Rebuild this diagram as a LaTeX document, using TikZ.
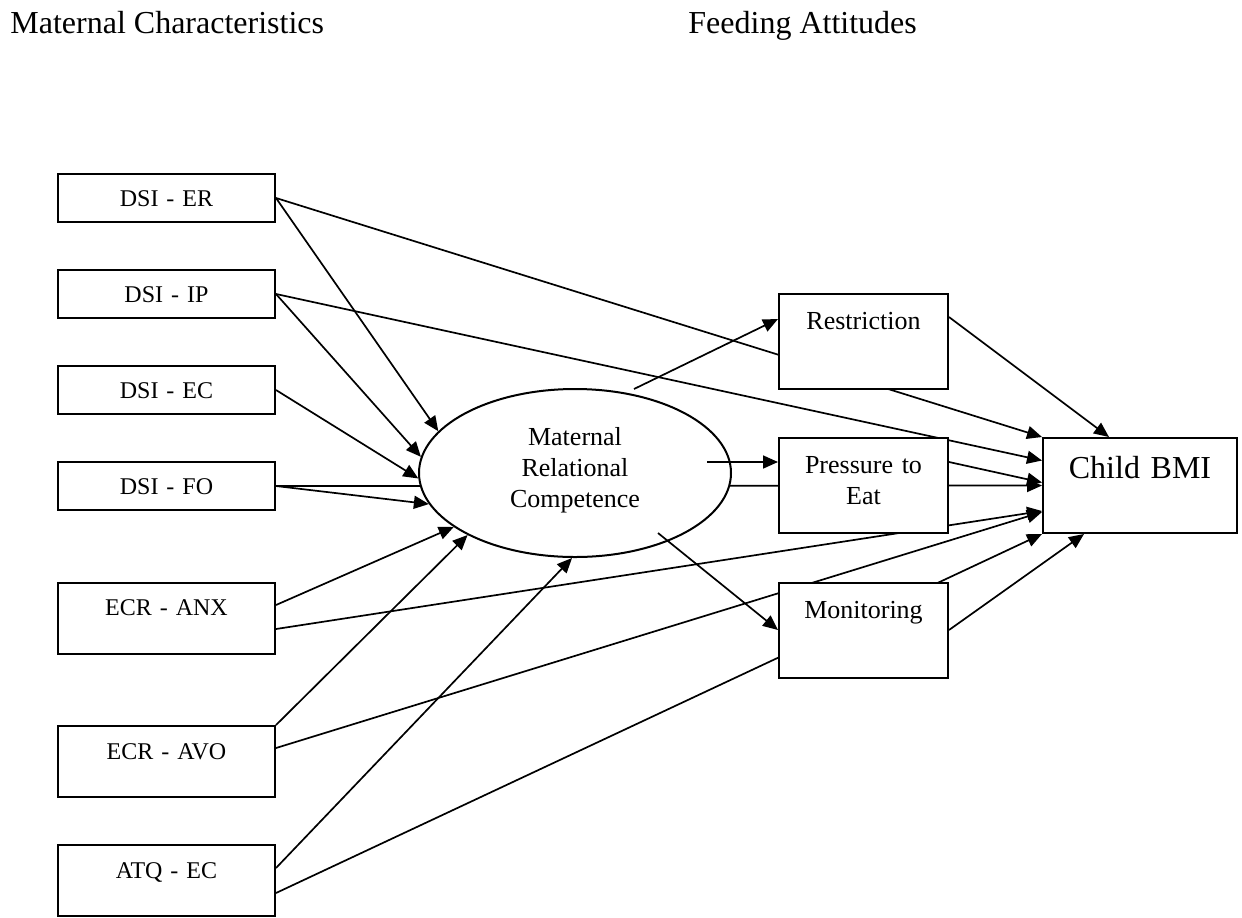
\documentclass[tikz,border=0pt]{standalone}
\usepackage{fontspec}
\setmainfont{Liberation Serif}
\usetikzlibrary{arrows.meta,shapes.geometric,calc,backgrounds}
\tikzset{
  arr/.style={-{Triangle[length=7.5pt,width=6.5pt]}, line width=0.85pt},
  lbox/.style={draw, fill=white, line width=1pt, inner sep=0pt, text width=108.5pt, align=center,
               font=\fontsize{12}{14}\selectfont, text height=16pt, text depth=8pt},
  tallbox/.style={lbox, text height=16.5pt, text depth=19pt},
  rbox/.style={draw, fill=white, line width=1pt, inner sep=0pt, text width=84.5pt, align=center,
               font=\fontsize{13}{15.5}\selectfont, text height=17.8pt, text depth=29.7pt},
  title/.style={inner sep=0pt, anchor=base west, font=\fontsize{16}{19}\selectfont}
}
\begin{document}
\begin{tikzpicture}[x=0.5pt,y=-0.5pt]
\useasboundingbox (0,0) rectangle (1242,917);
% titles
\node[title] (t1) at (10,33) {Maternal Characteristics};
\node[title] (t2) at (688,33) {Feeding Attitudes};
% left boxes
\node[lbox] (er) at (166.5,198) {DSI - ER};
\node[lbox] (ip) at (166.5,294) {DSI - IP};
\node[lbox] (ec) at (166.5,390) {DSI - EC};
\node[lbox] (fo) at (166.5,486) {DSI - FO};
\node[tallbox] (anx) at (166.5,618) {ECR - ANX};
\node[tallbox] (avo) at (166.5,761.5) {ECR - AVO};
\node[tallbox] (atq) at (166.5,880.5) {ATQ - EC};
% ellipse
\node[ellipse, draw, fill=white, line width=1pt, inner sep=0pt, minimum width=156pt, minimum height=84pt,
      text width=70pt, align=center, font=\fontsize{13}{15.5}\selectfont, text height=10pt, text depth=37.4pt]
      (mrc) at (575,473) {Maternal\\Relational\\Competence};
% right boxes
\node[rbox] (res) at (863.5,341.5) {Restriction};
\node[rbox] (pte) at (863.5,485.5) {Pressure to\\Eat};
\node[rbox] (mon) at (863.5,630) {Monitoring};
\node[draw, fill=white, line width=1pt, inner sep=0pt, text width=97pt, align=center,
      font=\fontsize{16}{19}\selectfont, text height=20.3pt, text depth=27.2pt] (bmi) at (1140,485.5) {Child BMI};
% connectors hidden behind shapes
\begin{pgfonlayer}{background}
\draw[arr] (er.east) -- (mrc.163);
\draw[arr] (er.east) -- (bmi.north west);
\draw[arr] (ip.east) -- (mrc.174.5);
\draw[arr] (ip.east) -- ($(bmi.west)+(0,-25)$);
\draw[arr] (ec.east) -- (mrc.182.5);
\draw[arr] (fo.east) -- (mrc.192);
\draw[arr] (fo.east) -- (bmi.west);
\draw[arr] ($(anx.east)+(0,-13)$) -- (mrc.204.6);
\draw[arr] ($(anx.east)+(0,11)$) -- ($(bmi.west)+(0,25.5)$);
\draw[arr] (avo.north east) -- (mrc.210);
\draw[arr] ($(avo.east)+(0,-13.5)$) -- ($(bmi.west)+(0,26.5)$);
\draw[arr] ($(atq.east)+(0,-12.5)$) -- (mrc.268);
\draw[arr] ($(atq.east)+(0,12.5)$) -- (bmi.south west);
\draw[arr] ($(res.east)+(0,-24.5)$) -- ($(bmi.north)+(-31,0)$);
\draw[arr] ($(pte.east)+(0,-23.5)$) -- ($(bmi.west)+(0,-3)$);
\draw[arr] (mon.east) -- ($(bmi.south)+(-56,0)$);
\end{pgfonlayer}
% connectors from the ellipse
\draw[arr] ($(mrc.center)+(59,-84)$) -- ($(res.west)+(0,-22.5)$);
\draw[arr] ($(mrc.center)+(132,-11)$) -- ($(pte.west)+(0,-23.5)$);
\draw[arr] ($(mrc.center)+(83,60)$) -- (mon.west);
\end{tikzpicture}
\end{document}
